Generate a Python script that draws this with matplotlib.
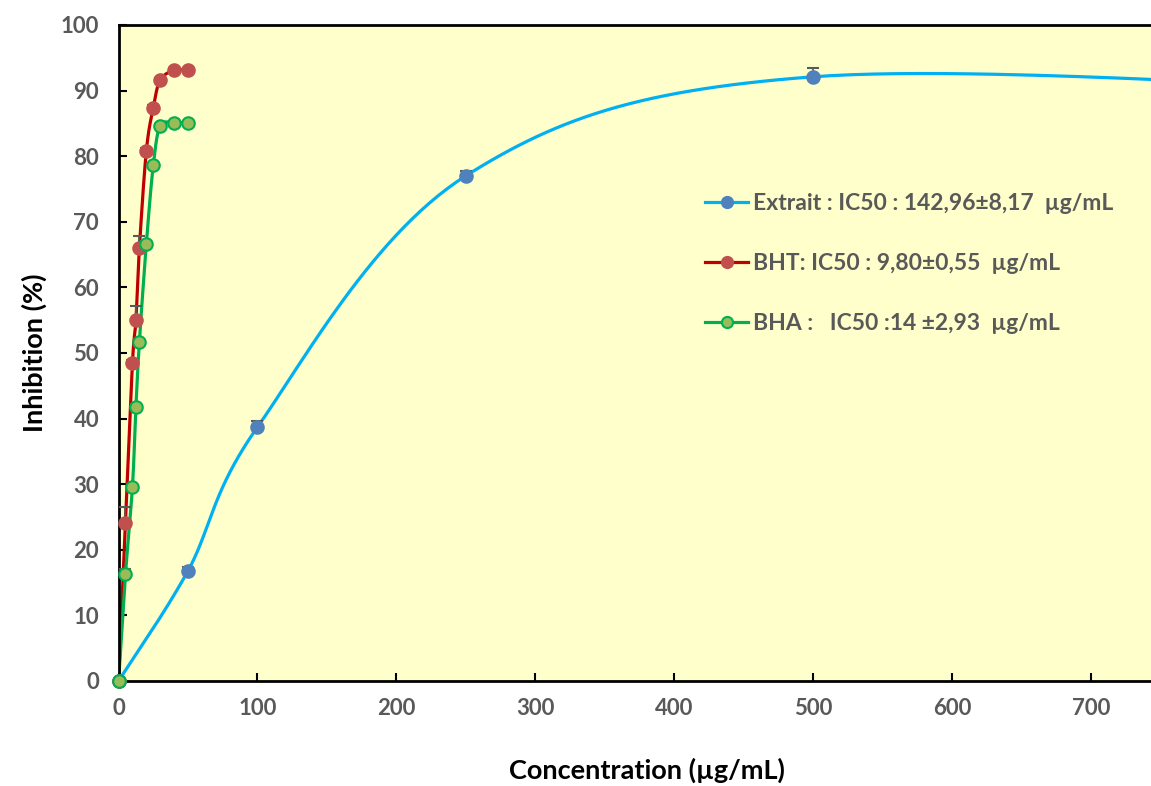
import numpy as np
import matplotlib.pyplot as plt

plt.rcParams['font.family'] = ['Lato', 'DejaVu Sans']
plt.rcParams['font.weight'] = 'bold'

# données
conc_ext = [0, 50, 100, 250, 500, 1000]
inh_ext = [0, 16.8, 38.7, 77.0, 92.1, 89.0]
err_ext = [0, 0.6, 1.0, 0.8, 1.3, 0]

conc_ref = [0, 5, 10, 12.5, 15, 20, 25, 30, 40, 50]
inh_bht = [0, 24.1, 48.4, 55.0, 66.0, 80.8, 87.4, 91.6, 93.1, 93.1]
err_bht = [0, 2.4, 0.5, 2.2, 1.9, 0.4, 0.4, 0.3, 0.3, 0.3]
inh_bha = [0, 16.3, 29.6, 41.8, 51.7, 66.6, 78.6, 84.6, 85.1, 85.1]
err_bha = [0, 0.8, 0.4, 0.4, 0.4, 0.4, 0.4, 0.3, 0.3, 0.3]

lab_ext = 'Extrait : IC50 : 142,96±8,17  µg/mL'
lab_bht = 'BHT: IC50 : 9,80±0,55  µg/mL'
lab_bha = 'BHA :   IC50 :14 ±2,93  µg/mL'


def lisse(x, y, n=60):
    # courbe lissée façon Excel (Bézier, tension 1/6)
    p = np.column_stack([x, y]).astype(float)
    out = [p[:1]]
    for i in range(len(p) - 1):
        p0 = p[max(i - 1, 0)]
        p1 = p[i]
        p2 = p[i + 1]
        p3 = p[min(i + 2, len(p) - 1)]
        c1 = p1 + (p2 - p0) / 6
        c2 = p2 - (p3 - p1) / 6
        t = np.linspace(0, 1, n)[1:, None]
        b = ((1 - t) ** 3 * p1 + 3 * (1 - t) ** 2 * t * c1
             + 3 * (1 - t) * t ** 2 * c2 + t ** 3 * p2)
        out.append(b)
    r = np.vstack(out)
    return r[:, 0], r[:, 1]


fig = plt.figure(figsize=(11.51, 7.86), dpi=100)
ax = fig.add_axes([0.103, 0.1336, 0.905, 0.8346])
ax.set_facecolor('#FFFFCC')

series = [
    (conc_ext, inh_ext, err_ext, '#00B0F0', '#4F81BD', '#4F81BD', lab_ext),
    (conc_ref, inh_bht, err_bht, '#C00000', '#C0504D', '#C0504D', lab_bht),
    (conc_ref, inh_bha, err_bha, '#00B050', '#9BBB59', '#00B050', lab_bha),
]
for x, y, e, lc, fc, ec, lab in series:
    sx, sy = lisse(x, y)
    ax.plot(sx, sy, color=lc, lw=2.3, zorder=2)
    ax.errorbar(x, y, yerr=[np.zeros(len(e)), e], fmt='none',
                ecolor='#595959', elinewidth=1.2, capsize=4, capthick=1.5, zorder=3)
    ax.plot(x, y, 'o', ms=9, mfc=fc, mec=ec, mew=1.5, zorder=4, clip_on=False)
    ax.plot([], [], '-o', color=lc, lw=2.3, ms=8, mfc=fc, mec=ec, mew=1.5, label=lab)

ax.set_xlim(0, 750)
ax.set_ylim(0, 100)
ax.set_xticks(np.arange(0, 701, 100))
ax.set_yticks(np.arange(0, 101, 10))
ax.tick_params(direction='in', length=6, width=1.5, labelsize=16,
               labelcolor='#595959', pad=12)
ax.tick_params(axis='y', pad=14)
for s in ['left', 'bottom', 'top']:
    ax.spines[s].set_linewidth(2)
ax.spines['right'].set_visible(False)

ax.set_xlabel('Concentration (µg/mL)', fontsize=19.5, fontweight='bold', labelpad=28)
ax.xaxis.set_label_coords(0.507, -0.117)
ax.set_ylabel('Inhibition (%)', fontsize=19.5, fontweight='bold', labelpad=10)

leg = ax.legend(loc='upper left', bbox_to_anchor=(0.543, 0.776), frameon=False,
                fontsize=16.5, labelcolor='#595959', handlelength=1.9,
                handletextpad=0.2, labelspacing=1.72)

fig.savefig('out.png', dpi=100)
